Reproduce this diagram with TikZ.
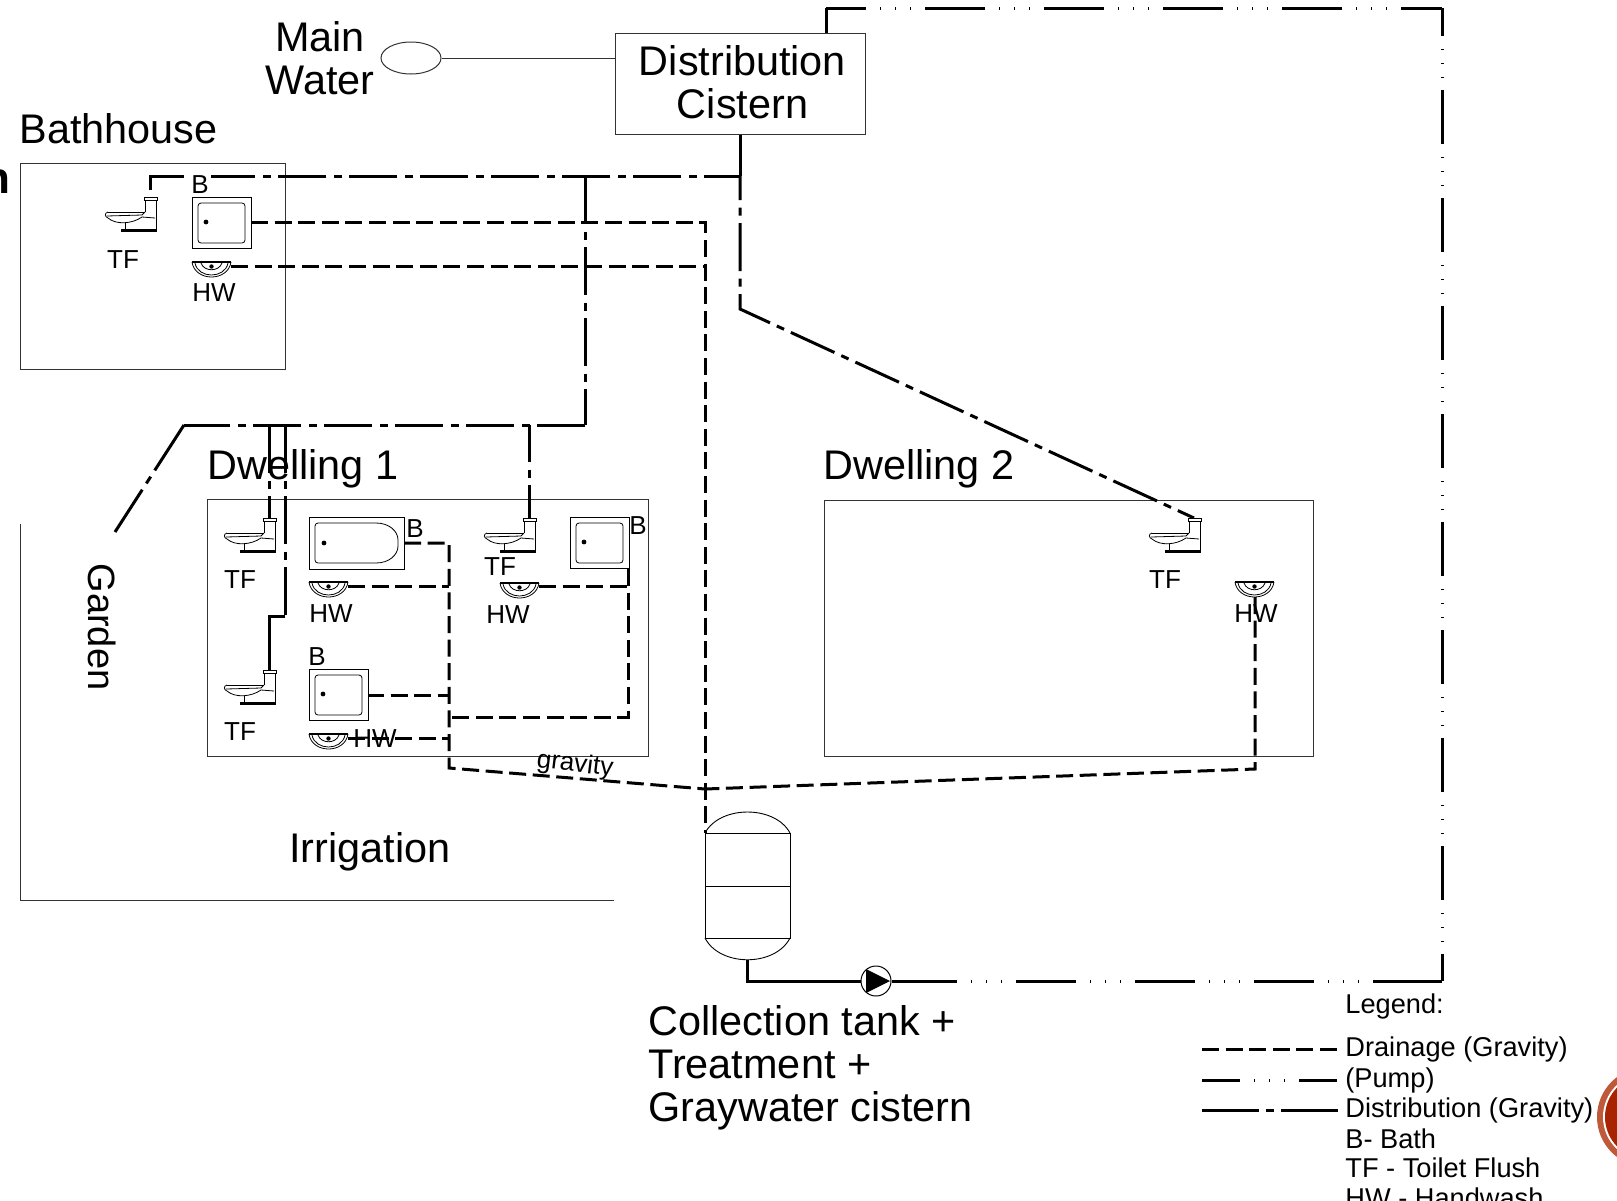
\documentclass[tikz,border=0pt]{standalone}
\usepackage{fontspec}
\setmainfont{Liberation Sans}
\usetikzlibrary{shapes.geometric}

\definecolor{logoring}{HTML}{BE5A3A}
\definecolor{logored}{HTML}{A82400}

\tikzset{
    pipe/.style={line width=1.5pt, line join=miter},
    drain/.style={line width=1.5pt, dash pattern=on 8.5pt off 3.3pt},
    dist/.style={pipe, dash pattern=on 24pt off 3.75pt on 4pt off 3.75pt},
    pumpwide/.style={pipe, dash pattern=on 30pt off 7pt on 0.5pt off 7pt on 0.5pt off 7pt on 0.5pt off 7pt},
    pumptall/.style={pipe, dash pattern=on 27pt off 6.5pt on 0.5pt off 6.5pt on 0.5pt off 6.5pt on 0.5pt off 6pt},
    outline/.style={draw=black!80, line width=0.5pt, inner sep=0pt},
    fixture/.style={line width=0.4pt},
    bigtext/.style={font=\fontsize{20.7}{21.5}\selectfont, inner sep=0pt, align=center},
    smalltext/.style={font=\fontsize{13}{15}\selectfont, inner sep=0pt},
    legendtext/.style={font=\fontsize{13.6}{15}\selectfont, anchor=west, inner xsep=3.5pt, inner ysep=0pt, text height=10pt, text depth=3pt},
    % Toilet, origin where the pipe comes in
    toilet/.pic={
        \draw[fixture, fill=white] (-6,0) rectangle (7,3.5);
        \draw[fixture] (-5,3.5) -- (-5,15);
        \draw[fixture] (6,3.5) -- (6,33);
        \draw[line width=0.9pt] (-42,15.5) -- (-6,15.5);
        \draw[fixture] (-42,15) .. controls (-46,16) and (-45,20) .. (-42,21) .. controls (-34,28) and (-18,27) .. (-8,20) -- (5,21);
        \draw[fixture] (-43,19) -- (-8,18) -- (-5,15);
        \draw[fixture] (-25,26) -- (-25,33);
        \draw[line width=1.2pt] (-29,33.5) -- (7,33.5);
    },
    % Shower tray, origin top left
    tray/.pic={
        \draw[line width=0.45pt, fill=white] (0,0) rectangle (59,51);
        \draw[fixture, rounded corners=1.5pt] (6,6) rectangle (53,46);
        \fill (14,25) circle (2.4);
    },
    % Bath tub, origin top left
    tub/.pic={
        \draw[line width=0.45pt, fill=white] (0,0) rectangle (95,52);
        \draw[fixture, rounded corners=1.5pt] (6,6) -- (64,6) .. controls (80,6) and (89,14) .. (89,26) .. controls (89,38) and (80,46) .. (64,46) -- (6,46) -- cycle;
        \fill (15,26) circle (2.4);
    },
    % Hand basin, origin top left
    basin/.pic={
        \draw[fixture, fill=white] (0,1) .. controls (3,21) and (36,21) .. (39,1);
        \draw[fixture] (3,2) .. controls (6,18) and (33,18) .. (36,2);
        \draw[fixture] (9,2) .. controls (12,11) and (27,11) .. (30,2);
        \draw[line width=0.9pt] (0,0.8) -- (39,0.8);
        \fill (19.5,5.5) circle (2.2);
    }
}

\begin{document}
\begin{tikzpicture}[x=0.5pt, y=-0.5pt]
    \useasboundingbox (0,0) rectangle (1617,1200);

    % Buildings
    \node[outline, minimum width=132.5pt, minimum height=103pt] (bathhouse) at (152.5,266.5) {};
    \node[outline, minimum width=220.5pt, minimum height=128.5pt] (dwellingone) at (428,627.5) {};
    \node[outline, minimum width=244.5pt, minimum height=128pt] (dwellingtwo) at (1068.5,628) {};

    % Garden edge
    \coordinate (gardentop) at (20,524);
    \coordinate (gardencorner) at (20,900);
    \coordinate (gardenend) at (614,900);
    \draw[draw=black!80, line width=0.5pt] (gardentop) -- (gardencorner) -- (gardenend);

    % Supply
    \node[outline, ellipse, minimum width=30pt, minimum height=16pt] (mainwater) at (411,58) {};
    \node[outline, minimum width=125pt, minimum height=50.5pt] (cistern) at (740,83.5) {};
    \node[bigtext] (cisternlabel) at (742.5,82.5) {Distribution\\Cistern};
    \draw[draw=black!80, line width=0.5pt] (mainwater.east) -- (mainwater.east -| cistern.west);

    % Fixture points
    \coordinate (tfbath) at (150,197);
    \coordinate (tfone) at (269,518);
    \coordinate (tftwo) at (269,670);
    \coordinate (tfthree) at (529,518);
    \coordinate (tffour) at (1194,518);
    \coordinate (traybath) at (192,197);
    \coordinate (trayone) at (309,669);
    \coordinate (traytwo) at (570,517);
    \coordinate (tubone) at (309,517);
    \coordinate (hwbath) at (192,261);
    \coordinate (hwone) at (309,581);
    \coordinate (hwtwo) at (309,733);
    \coordinate (hwthree) at (500,582);
    \coordinate (hwfour) at (1235,581);

    % Distribution
    \coordinate (split) at (740,176);
    \coordinate (bend) at (740,309);
    \coordinate (branch) at (585,176);
    \coordinate (low) at (585,425);
    \coordinate (lowend) at (184,425);
    \coordinate (gardenpipe) at (115,532);
    \coordinate (bathcorner) at (150,176);
    \coordinate (dropone) at (269,425);
    \coordinate (droptwo) at (285,425);
    \coordinate (dropthree) at (529,425);
    \coordinate (jogtop) at (285,616);
    \coordinate (jogend) at (269,616);
    \draw[pipe] (cistern.south) -- (split);
    \draw[dist, dash phase=12pt] (split) -- (bend) -- (tffour);
    \draw[dist, dash phase=6pt] (split) -- (bathcorner) -- (tfbath);
    \draw[dist] (branch) -- (low);
    \draw[dist] (low) -- (lowend);
    \draw[pipe, dash pattern=on 27pt off 3.75pt on 4pt off 3.75pt] (lowend) -- (gardenpipe);
    \draw[dist] (dropone) -- (tfone);
    \draw[dist] (droptwo) -- (jogtop);
    \draw[pipe] (jogtop) -- (jogend) -- (tftwo);
    \draw[dist, dash phase=5.5pt] (dropthree) -- (tfthree);

    % Tank and pump
    \coordinate (tanktop) at (705,833);
    \coordinate (tankout) at (747,960);
    \coordinate (pumpbend) at (747,981);
    \draw[line width=0.45pt] (705,833) rectangle (790,938);
    \draw[line width=0.45pt] (705,886) -- (790,886);
    \draw[line width=0.45pt] (705,833) .. controls (720,805) and (775,805) .. (790,833);
    \draw[line width=0.45pt] (705,938) .. controls (720,967) and (775,967) .. (790,938);
    \node[draw, circle, fill=white, line width=0.5pt, minimum size=15pt, inner sep=0pt] (pump) at (876,981) {};
    \draw[pipe] (tankout) -- (pumpbend) -- (pump);

    % Pumped line
    \coordinate (pumpout) at (897,981);
    \coordinate (lastdash) at (1373,981);
    \coordinate (farcorner) at (1442,981);
    \coordinate (topcorner) at (1442,8);
    \coordinate (topstart) at (826,8);
    \draw[pipe] (pump) -- (pumpout);
    \draw[pipe, pumpwide] (pumpout) -- (lastdash);
    \draw[pipe] (lastdash) -- (farcorner);
    \draw[pipe, pumptall, dash phase=13pt] (topcorner) -- (farcorner);
    \draw[pipe, pumpwide, dash phase=10pt] (topstart) -- (topcorner);
    \draw[pipe] (topstart) -- (826,33);
    \fill (866,969) -- (890,981) -- (866,993) -- cycle;

    % Drainage
    \coordinate (eastdrop) at (705,222);
    \coordinate (eastsink) at (705,266);
    \coordinate (westdrop) at (449,543);
    \coordinate (westfoot) at (449,768);
    \coordinate (meet) at (705,789);
    \coordinate (sinkfoot) at (1255,769);
    \coordinate (sinkdrop) at (1255,597);
    \coordinate (traybend) at (628,717);
    \coordinate (traytap) at (449,717);
    \draw[drain] (251,222) -- (eastdrop) -- (tanktop);
    \draw[drain] (231,266) -- (eastsink);
    \draw[drain] (404,543) -- (westdrop) -- (westfoot) -- (meet);
    \draw[drain] (348,586) -- (449,586);
    \draw[drain] (367,695) -- (449,695);
    \draw[drain] (348,738) -- (449,738);
    \draw[drain] (539,586) -- (628,586);
    \draw[drain] (628,569) -- (traybend) -- (traytap);
    \draw[drain] (sinkdrop) -- (sinkfoot) -- (meet);

    % Fixtures
    \pic at (tfone) {toilet};
    \pic at (tftwo) {toilet};
    \pic at (tfthree) {toilet};
    \pic at (tffour) {toilet};
    \pic at (tfbath) {toilet};
    \pic at (traybath) {tray};
    \pic at (trayone) {tray};
    \pic at (traytwo) {tray};
    \pic at (tubone) {tub};
    \pic at (hwbath) {basin};
    \pic at (hwone) {basin};
    \pic at (hwtwo) {basin};
    \pic at (hwthree) {basin};
    \pic at (hwfour) {basin};

    % Big labels
    \node[bigtext] (mainlabel) at (320,58) {Main\\Water};
    \node[bigtext, anchor=west] (bathlabel) at (19,129) {Bathhouse};
    \node[bigtext, anchor=west] (onelabel) at (207,469) {Dwelling 1};
    \node[bigtext, anchor=west] (twolabel) at (823,469) {Dwelling 2};
    \node[bigtext, font=\fontsize{19}{21}\selectfont, rotate=-90] (gardenlabel) at (102,627) {Garden};
    \node[bigtext] (irrigation) at (370,852) {Irrigation};
    \node[bigtext, anchor=west, align=left] (tanklabel) at (648,1068) {Collection tank +\\Treatment +\\Graywater cistern};
    \node[font=\bfseries\fontsize{22}{22}\selectfont, inner sep=0pt, anchor=base east] (cutlabel) at (11,193) {n};

    % Small labels
    \node[smalltext] (tflabela) at (123,260) {TF};
    \node[smalltext, fill=white, inner sep=1pt] (blabela) at (200,185) {B};
    \node[smalltext] (hwlabela) at (214,293) {HW};
    \node[smalltext] (tflabelb) at (240,580) {TF};
    \node[smalltext] (tflabelc) at (240,732) {TF};
    \node[smalltext] (blabelb) at (415,529) {B};
    \node[smalltext] (hwlabelb) at (331,614) {HW};
    \node[smalltext] (blabelc) at (317,657) {B};
    \node[smalltext] (hwlabelc) at (375,739) {HW};
    \node[smalltext] (tflabeld) at (500,567) {TF};
    \node[smalltext] (hwlabeld) at (508,615) {HW};
    \node[smalltext] (blabeld) at (638,526) {B};
    \node[smalltext] (tflabele) at (1165,580) {TF};
    \node[smalltext] (hwlabele) at (1256,614) {HW};
    \node[smalltext, rotate=-7] (gravity) at (575,765) {gravity};

    % Legend
    \node[legendtext] (legendhead) at (1338,1006) {Legend:};
    \node[legendtext] (legenddrain) at (1338,1049) {Drainage (Gravity)};
    \node[legendtext] (legendpump) at (1338,1080) {(Pump)};
    \node[legendtext] (legenddist) at (1338,1110) {Distribution (Gravity)};
    \node[legendtext] (legendbath) at (1338,1141) {B- Bath};
    \node[legendtext] (legendflush) at (1338,1170) {TF - Toilet Flush};
    \node[legendtext] (legendwash) at (1338,1200) {HW - Handwash};
    \coordinate (keydrain) at (1202,1049);
    \coordinate (keypump) at (1202,1080);
    \coordinate (keydist) at (1202,1110);
    \draw[drain] (keydrain) -- (legenddrain);
    \draw[pipe, dash pattern=on 19pt off 7pt on 0.5pt off 7pt on 0.5pt off 7pt on 0.5pt off 7pt] (keypump) -- (legendpump);
    \draw[pipe, dash pattern=on 28.5pt off 3.5pt on 4pt off 3.5pt] (keydist) -- (legenddist);

    % Logo at the page edge
    \fill[logoring] (1647,1117) circle (50);
    \fill[white] (1647,1117) circle (44);
    \fill[logored] (1647,1117) circle (42);
\end{tikzpicture}
\end{document}
